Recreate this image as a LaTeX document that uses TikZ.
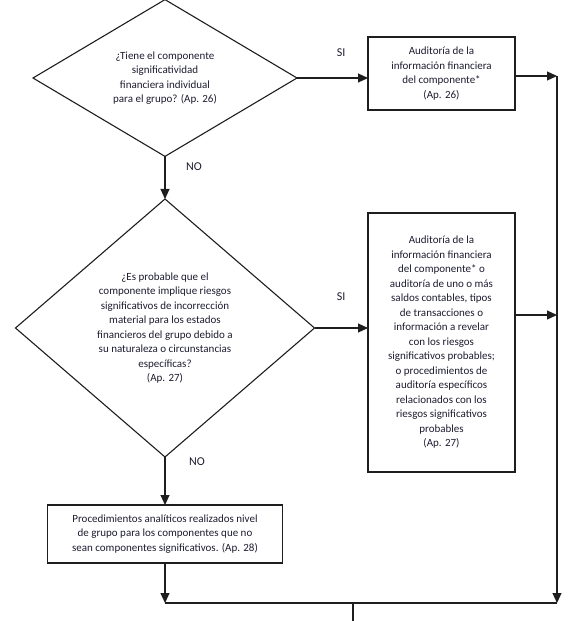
\documentclass[tikz,border=0pt]{standalone}
\usepackage{fontspec}
\setmainfont{Carlito}
\usepackage{tikz}
\usetikzlibrary{arrows.meta, positioning, shapes.geometric, calc}
\definecolor{flowtext}{HTML}{1C1C30}
\definecolor{flowline}{HTML}{1E1E1E}

\begin{document}
\begin{tikzpicture}[x=1pt, y=-1pt,
    every node/.style={font=\fontsize{11}{14.5}\selectfont, text=flowtext},
    decision/.style={draw=flowline, line width=1.1pt, diamond, align=center, inner sep=0pt, outer sep=0pt},
    procbox/.style={draw=flowline, line width=1.1pt, rectangle, align=center, inner sep=0pt, outer sep=0pt},
    flow/.style={-{Triangle[length=10pt, width=9pt]}, line width=1.1pt, flowline},
    plainline/.style={line width=1.1pt, flowline},
    answer/.style={font=\fontsize{12}{14}\selectfont},
]
    \useasboundingbox (0, 0) rectangle (574, 621);

    % Decisions
    \node[decision, minimum width=264pt, minimum height=140pt] (tiene) at (165, 78)
        {¿Tiene el componente\\ significatividad\\ financiera individual\\ para el grupo? (Ap. 26)};
    \node[decision, minimum width=299pt, minimum height=258pt] (riesgo) at (165, 328)
        {¿Es probable que el\\ componente implique riesgos\\ significativos de incorrección\\
         material para los estados\\ financieros del grupo debido a\\ su naturaleza o circunstancias\\
         específicas?\\ (Ap. 27)};

    % Procedures
    \node[procbox, minimum width=147pt, minimum height=73pt] (audcomp) at (441.5, 73.5)
        {Auditoría de la\\ información financiera\\ del componente*\\ (Ap. 26)};
    \node[procbox, minimum width=147pt, minimum height=259pt] (audriesgo) at (441.5, 342.5)
        {Auditoría de la\\ información financiera\\ del componente* o\\ auditoría de uno o más\\
         saldos contables, tipos\\ de transacciones o\\ información a revelar\\ con los riesgos\\
         significativos probables;\\ o procedimientos de\\ auditoría específicos\\
         relacionados con los\\ riesgos significativos\\ probables\\ (Ap. 27)};
    \node[procbox, minimum width=235pt, minimum height=58pt] (analit) at (165, 534)
        {Procedimientos analíticos realizados nivel\\ de grupo para los componentes que no\\
         sean componentes significativos. (Ap. 28)};

    % Rail on the right and joint at the bottom
    \coordinate (railtop) at (557, 76);
    \coordinate (railmid) at (557, 315);
    \coordinate (railend) at (557, 603);
    \coordinate (joinl) at (165, 603);
    \coordinate (outlet) at (353, 621);

    % Answers
    \draw[flow] (tiene) -- node[answer, pos=0.24, xshift=29pt] {NO} (riesgo);
    \draw[flow] (tiene.east) -- node[answer, pos=0.62, yshift=25pt] {SI} (tiene.east -| audcomp.west);
    \draw[flow] (riesgo.east) -- node[answer, pos=0.5, yshift=31pt] {SI} (riesgo.east -| audriesgo.west);
    \draw[flow] (riesgo) -- node[answer, pos=0.1, xshift=32pt] {NO} (analit);

    % Outputs
    \draw[flow] (audcomp.east |- railtop) -- (railtop);
    \draw[flow] (audriesgo.east |- railmid) -- (railmid);
    \draw[flow] (railtop) -- (railend);
    \draw[flow] (analit) -- (joinl);
    \draw[plainline] (joinl) -- (railend);
    \draw[plainline] (joinl -| outlet) -- (outlet);
\end{tikzpicture}
\end{document}
